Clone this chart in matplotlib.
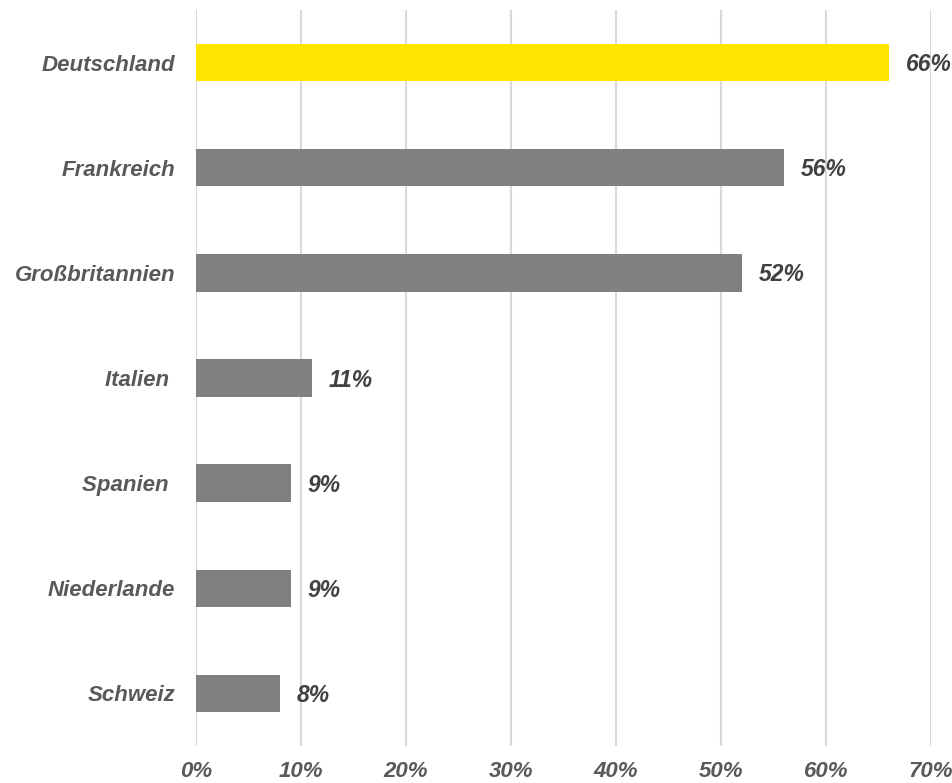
import numpy as np
import matplotlib.pyplot as plt

plt.rcParams['font.family'] = ['Liberation Sans', 'DejaVu Sans']

# Anteil je Land (in Prozent)
laender = ['Deutschland', 'Frankreich', 'Großbritannien', 'Italien ', 'Spanien ', 'Niederlande', 'Schweiz']
anteile = [66, 56, 52, 11, 9, 9, 8]
farben = ['#FFE500', '#808080', '#808080', '#808080', '#808080', '#808080', '#808080']
xticks = [0, 10, 20, 30, 40, 50, 60, 70]

fig = plt.figure(figsize=(9.53, 7.83), dpi=100)
ax = fig.add_axes([196 / 953, 1 - 746 / 783, (931 - 196) / 953, (746 - 10) / 783])

y = np.arange(len(laender))
ax.barh(y, anteile, height=0.355, color=farben, zorder=3)

for yi, wert in zip(y, anteile):
    ax.annotate(f'{wert}%', xy=(wert, yi), xytext=(12, -1.5), textcoords='offset points',
                va='center', ha='left', fontsize=16.5, fontweight='bold', fontstyle='italic',
                color='#404040')

ax.set_xlim(0, 70)
ax.set_ylim(len(laender) - 0.5, -0.5)
ax.set_xticks(xticks)
ax.set_xticklabels([f'{t}%' for t in xticks])
ax.set_yticks(y)
ax.set_yticklabels(laender)

for lbl in ax.get_xticklabels() + ax.get_yticklabels():
    lbl.set_fontsize(16)
    lbl.set_fontweight('bold')
    lbl.set_fontstyle('italic')
    lbl.set_color('#595959')

ax.tick_params(axis='y', length=0, pad=15)
ax.tick_params(axis='x', length=0, pad=11)
ax.grid(axis='x', color='#D9D9D9', linewidth=1.5, zorder=0)
for s in ax.spines.values():
    s.set_visible(False)

fig.savefig('out.png', dpi=100)
